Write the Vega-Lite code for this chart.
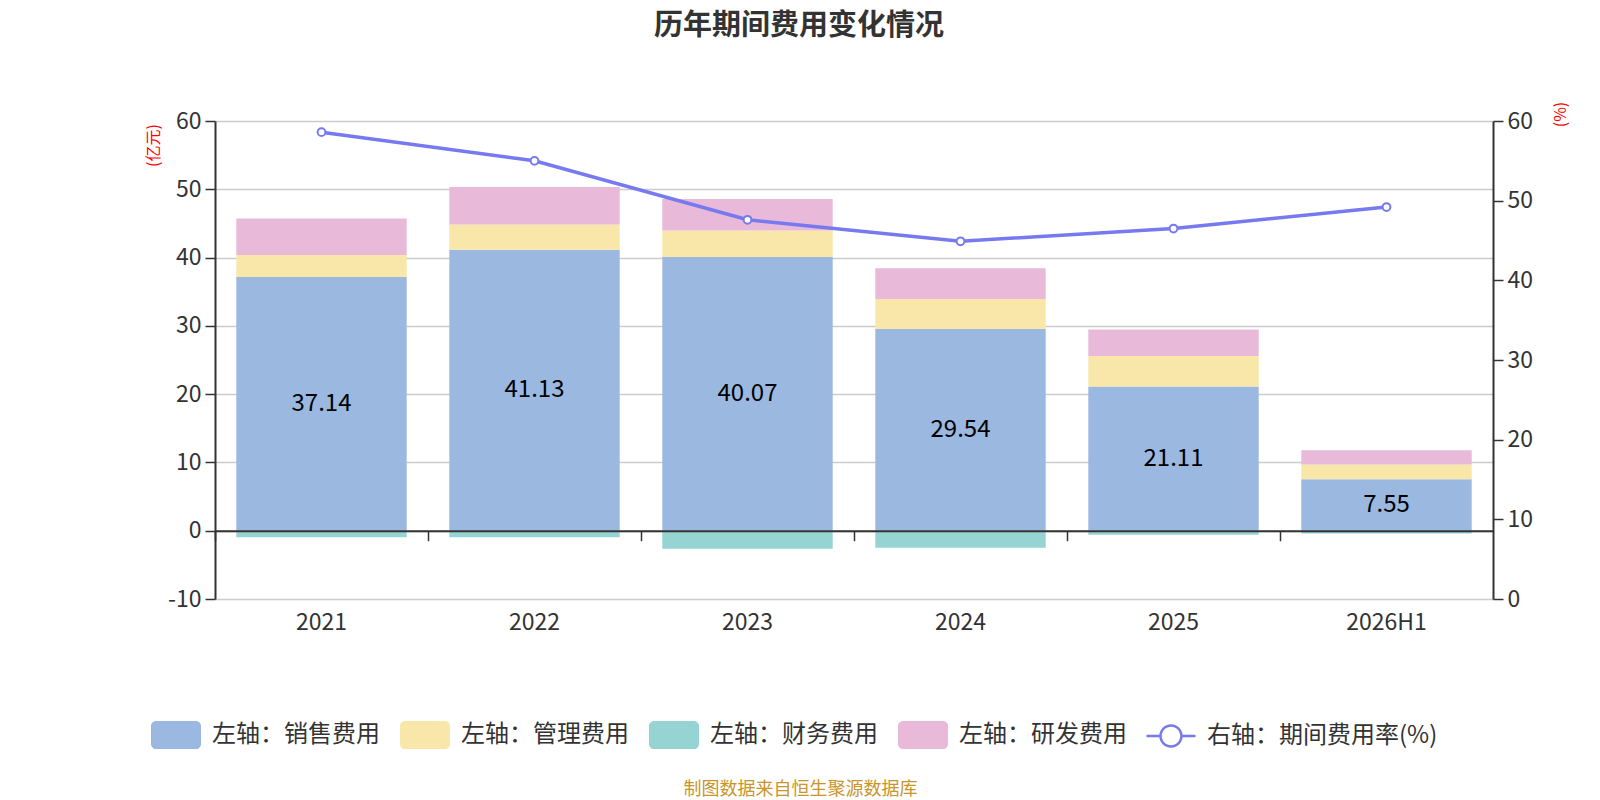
{
  "$schema": "https://vega.github.io/schema/vega-lite/v6.json",
  "autosize": {"type": "none"},
  "width": 1278,
  "height": 478,
  "padding": {"left": 215, "top": 121, "right": 107, "bottom": 201},
  "background": "white",
  "title": {
    "text": "历年期间费用变化情况",
    "fontSize": 29,
    "fontWeight": "bold",
    "color": "#333333",
    "anchor": "middle",
    "baseline": "bottom",
    "dx": -55,
    "offset": 31
  },
  "datasets": {
    "costs": [
      {"year": "2021", "item": "左轴：销售费用", "value": 37.14, "order": 1},
      {"year": "2021", "item": "左轴：管理费用", "value": 3.23, "order": 2},
      {"year": "2021", "item": "左轴：财务费用", "value": -0.95, "order": 3},
      {"year": "2021", "item": "左轴：研发费用", "value": 5.37, "order": 4},
      {"year": "2022", "item": "左轴：销售费用", "value": 41.13, "order": 1},
      {"year": "2022", "item": "左轴：管理费用", "value": 3.72, "order": 2},
      {"year": "2022", "item": "左轴：财务费用", "value": -0.95, "order": 3},
      {"year": "2022", "item": "左轴：研发费用", "value": 5.5, "order": 4},
      {"year": "2023", "item": "左轴：销售费用", "value": 40.07, "order": 1},
      {"year": "2023", "item": "左轴：管理费用", "value": 3.88, "order": 2},
      {"year": "2023", "item": "左轴：财务费用", "value": -2.64, "order": 3},
      {"year": "2023", "item": "左轴：研发费用", "value": 4.63, "order": 4},
      {"year": "2024", "item": "左轴：销售费用", "value": 29.54, "order": 1},
      {"year": "2024", "item": "左轴：管理费用", "value": 4.4, "order": 2},
      {"year": "2024", "item": "左轴：财务费用", "value": -2.49, "order": 3},
      {"year": "2024", "item": "左轴：研发费用", "value": 4.48, "order": 4},
      {"year": "2025", "item": "左轴：销售费用", "value": 21.11, "order": 1},
      {"year": "2025", "item": "左轴：管理费用", "value": 4.47, "order": 2},
      {"year": "2025", "item": "左轴：财务费用", "value": -0.6, "order": 3},
      {"year": "2025", "item": "左轴：研发费用", "value": 3.88, "order": 4},
      {"year": "2026H1", "item": "左轴：销售费用", "value": 7.55, "order": 1},
      {"year": "2026H1", "item": "左轴：管理费用", "value": 2.15, "order": 2},
      {"year": "2026H1", "item": "左轴：财务费用", "value": -0.42, "order": 3},
      {"year": "2026H1", "item": "左轴：研发费用", "value": 2.1, "order": 4}
    ],
    "rate": [
      {"year": "2021", "rate": 58.6},
      {"year": "2022", "rate": 55.0},
      {"year": "2023", "rate": 47.6},
      {"year": "2024", "rate": 44.9},
      {"year": "2025", "rate": 46.5},
      {"year": "2026H1", "rate": 49.2}
    ]
  },
  "layer": [
    {
      "data": {"name": "costs"},
      "encoding": {
        "x": {
          "field": "year",
          "type": "nominal",
          "sort": null,
          "scale": {"paddingInner": 0, "paddingOuter": 0},
          "axis": {
            "orient": "bottom",
            "offset": -68.3,
            "zindex": 1,
            "labels": false,
            "title": null,
            "grid": false,
            "domain": true,
            "domainColor": "#333333",
            "domainWidth": 2,
            "ticks": true,
            "tickColor": "#333333",
            "tickWidth": 1.5,
            "tickSize": 10,
            "bandPosition": 0
          }
        }
      },
      "layer": [
        {
          "mark": {"type": "bar", "width": {"band": 0.8}},
          "encoding": {
            "y": {
              "field": "value",
              "type": "quantitative",
              "stack": "zero",
              "scale": {"domain": [-10, 60], "nice": false, "zero": false},
              "axis": {
                "values": [-10, 0, 10, 20, 30, 40, 50, 60],
                "labelExpr": "'' + datum.value",
                "grid": true,
                "gridColor": "#cccccc",
                "gridWidth": 1.5,
                "domain": true,
                "domainColor": "#333333",
                "domainWidth": 2,
                "ticks": true,
                "tickColor": "#333333",
                "tickWidth": 1.5,
                "tickSize": 10,
                "labelFontSize": 23,
                "labelColor": "#333333",
                "labelPadding": 4,
                "title": "(亿元)",
                "titleColor": "#ff0000",
                "titleFontSize": 16,
                "titleFontWeight": "normal",
                "titleAngle": 270,
                "titleAlign": "center",
                "titleBaseline": "middle",
                "titleX": -62,
                "titleY": 24
              }
            },
            "color": {
              "field": "item",
              "type": "nominal",
              "scale": {
                "domain": ["左轴：销售费用", "左轴：管理费用", "左轴：财务费用", "左轴：研发费用", "右轴：期间费用率(%)"],
                "range": ["#9BB8E1", "#F8E7A8", "#96D3D3", "#E8B9D8", "#7679EF"]
              },
              "legend": {
                "orient": "none",
                "direction": "horizontal",
                "legendX": -53,
                "legendY": 600,
                "title": null,
                "columnPadding": 19,
                "symbolSize": 784,
                "symbolType": "M-1.43,-1H1.43A0.36,0.36,0,0,1,1.786,-0.64V0.64A0.36,0.36,0,0,1,1.43,1H-1.43A0.36,0.36,0,0,1,-1.786,0.64V-0.64A0.36,0.36,0,0,1,-1.43,-1Z",
                "symbolStrokeWidth": 0,
                "labelFontSize": 24,
                "labelColor": "#333333",
                "labelOffset": 22,
                "labelLimit": 400,
                "encode": {
                  "symbols": {
                    "update": {
                      "shape": [
                        {"test": "datum.value === '右轴：期间费用率(%)'", "value": "M-1.75,-0.09H-0.8V0.09H-1.75Z M0.8,-0.09H1.75V0.09H0.8Z M0.84,0A0.84,0.84,0,1,1,-0.84,0A0.84,0.84,0,1,1,0.84,0Z M0.66,0A0.66,0.66,0,1,0,-0.66,0A0.66,0.66,0,1,0,0.66,0Z"},
                        {"value": "M-1.43,-1H1.43A0.36,0.36,0,0,1,1.786,-0.64V0.64A0.36,0.36,0,0,1,1.43,1H-1.43A0.36,0.36,0,0,1,-1.786,0.64V-0.64A0.36,0.36,0,0,1,-1.43,-1Z"}
                      ],
                      "opacity": {"value": 1}
                    }
                  }
                }
              }
            },
            "order": {"field": "order", "type": "quantitative"}
          }
        },
        {
          "transform": [
            {"filter": "datum.item === '左轴：销售费用'"},
            {"calculate": "datum.value / 2", "as": "mid"}
          ],
          "mark": {"type": "text", "fontSize": 24, "color": "#000000", "baseline": "middle", "align": "center"},
          "encoding": {
            "y": {"field": "mid", "type": "quantitative"},
            "text": {"field": "value", "type": "quantitative", "format": ".2f"}
          }
        }
      ]
    },
    {
      "data": {"name": "rate"},
      "encoding": {
        "x": {
          "field": "year",
          "type": "nominal",
          "sort": null,
          "axis": {
            "orient": "bottom",
            "domain": false,
            "ticks": false,
            "grid": false,
            "labelAngle": 0,
            "labelFontSize": 23,
            "labelColor": "#333333",
            "labelPadding": 12,
            "title": "制图数据来自恒生聚源数据库",
            "titleColor": "#C9952A",
            "titleFontSize": 18,
            "titleFontWeight": "normal",
            "titleAlign": "center",
            "titleBaseline": "middle",
            "titleX": 585,
            "titleY": 190
          }
        },
        "y": {
          "field": "rate",
          "type": "quantitative",
          "scale": {"domain": [0, 60], "nice": false},
          "axis": {
            "orient": "right",
            "values": [0, 10, 20, 30, 40, 50, 60],
            "grid": false,
            "domain": true,
            "domainColor": "#333333",
            "domainWidth": 2,
            "ticks": true,
            "tickColor": "#333333",
            "tickWidth": 1.5,
            "tickSize": 10,
            "labelFontSize": 23,
            "labelColor": "#333333",
            "labelPadding": 4,
            "title": "(%)",
            "titleColor": "#ff0000",
            "titleFontSize": 16,
            "titleFontWeight": "normal",
            "titleAngle": 270,
            "titleAlign": "center",
            "titleBaseline": "middle",
            "titleX": 67,
            "titleY": -7
          }
        }
      },
      "layer": [
        {"mark": {"type": "line", "color": "#7679EF", "strokeWidth": 3.5}},
        {"mark": {"type": "point", "shape": "circle", "filled": true, "fill": "#ffffff", "stroke": "#7679EF", "strokeWidth": 2, "size": 60, "opacity": 1}}
      ]
    }
  ],
  "resolve": {"scale": {"y": "independent"}, "axis": {"x": "independent"}},
  "config": {
    "font": "Noto Sans CJK SC",
    "view": {"stroke": null},
    "axis": {"labelFont": "Noto Sans CJK SC", "titleFont": "Noto Sans CJK SC"},
    "legend": {"labelFont": "Noto Sans CJK SC"}
  }
}
